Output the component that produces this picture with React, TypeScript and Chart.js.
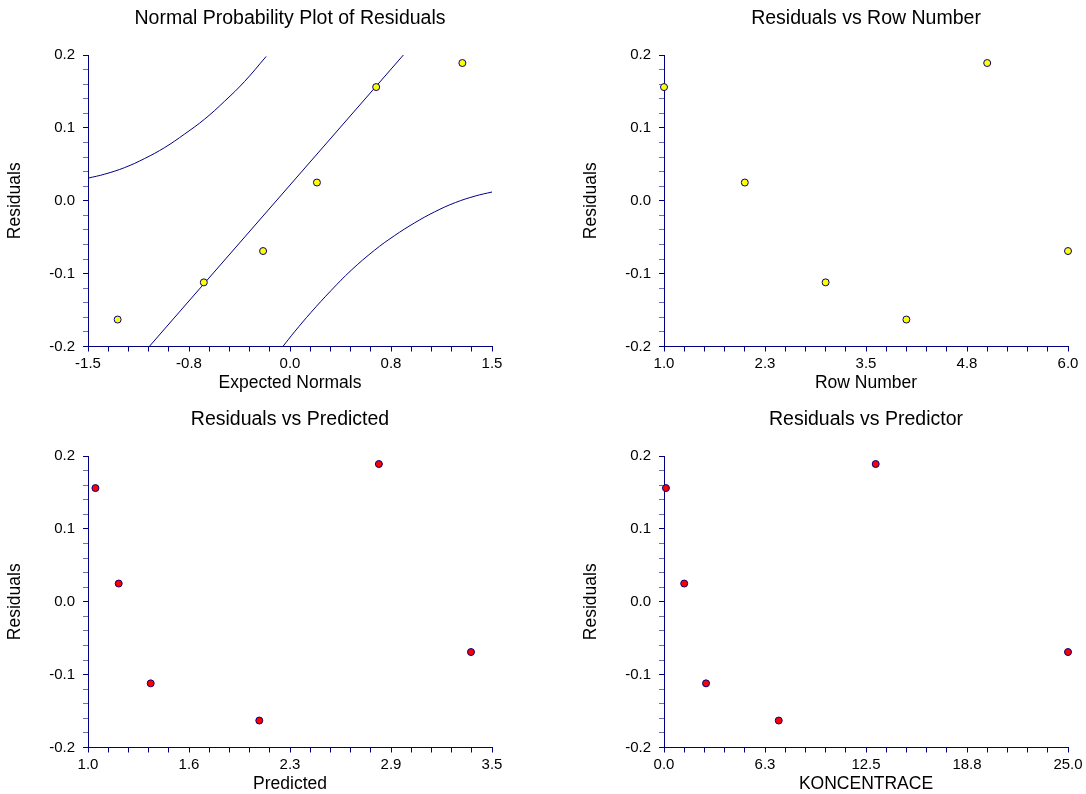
import React, { useEffect, useRef } from 'react';
import { Chart, registerables } from 'chart.js';

Chart.register(...registerables);

// ---------- data ----------
const rowNumbers = [1, 2, 3, 4, 5, 6];
const residuals = [0.156, 0.025, -0.112, -0.163, 0.189, -0.069];
const predicted = [1.046, 1.19, 1.388, 2.06, 2.8, 3.37];
const koncentrace = [0.12, 1.25, 2.6, 7.1, 13.1, 25.0];

const expectedNormals = [-1.28, -0.64, -0.2, 0.2, 0.64, 1.28];
const sortedResiduals = [-0.163, -0.112, -0.069, 0.025, 0.156, 0.189];

const refLineX = [-1.045, 0.842];
const refLineY = [-0.2, 0.2];
const upperBandX = [-1.5, -1.376, -1.228, -1.079, -0.931, -0.783, -0.634, -0.486, -0.338, -0.177];
const upperBandY = [0.031, 0.0365, 0.0455, 0.058, 0.073, 0.0915, 0.112, 0.1365, 0.1635, 0.198];
const lowerBandX = [-0.053, 0.033, 0.157, 0.306, 0.454, 0.627, 0.775, 0.924, 1.072, 1.228, 1.376, 1.5];
const lowerBandY = [-0.2, -0.18, -0.153, -0.123, -0.0955, -0.068, -0.048, -0.0305, -0.0154, -0.0025, 0.0065, 0.012];

// tick values and labels
const yTickValues = [-0.2, -0.1, 0, 0.1, 0.2];
const yTickLabels = ['-0.2', '-0.1', '0.0', '0.1', '0.2'];
const xNormalTicks = [-1.5, -0.75, 0, 0.75, 1.5];
const xNormalLabels = ['-1.5', '-0.8', '0.0', '0.8', '1.5'];
const xRowTicks = [1, 2.25, 3.5, 4.75, 6];
const xRowLabels = ['1.0', '2.3', '3.5', '4.8', '6.0'];
const xPredTicks = [1, 1.625, 2.25, 2.875, 3.5];
const xPredLabels = ['1.0', '1.6', '2.3', '2.9', '3.5'];
const xKonTicks = [0, 6.25, 12.5, 18.75, 25];
const xKonLabels = ['0.0', '6.3', '12.5', '18.8', '25.0'];

// ---------- styling / layout ----------
const FONT = '"Liberation Sans", Arial, Helvetica, sans-serif';
const NAVY = '#000080';
const MINOR = '#6f6fb5';
const CW = 530;
const CH = 400;
const PLOT_LEFT = 88;
const PLOT_RIGHT = 492;
const PLOT_BOTTOM = 346.5;
const SUBDIV = 5;

Chart.defaults.font.family = FONT;

function buildTicks(majors: number[], labels: string[]) {
  const out: any[] = [];
  for (let i = 0; i < majors.length - 1; i++) {
    const a = majors[i];
    const b = majors[i + 1];
    for (let k = 0; k < SUBDIV; k++) {
      out.push({ value: a + ((b - a) * k) / SUBDIV, lbl: k === 0 ? labels[i] : '' });
    }
  }
  out.push({ value: majors[majors.length - 1], lbl: labels[labels.length - 1] });
  return out;
}

function makeConfig(opts: {
  title: string;
  xTitle: string;
  xTicks: number[];
  xLabels: string[];
  datasets: any[];
}) {
  const { title, xTitle, xTicks, xLabels, datasets } = opts;
  return {
    type: 'scatter' as const,
    data: { datasets },
    options: {
      responsive: false,
      animation: false,
      devicePixelRatio: 1,
      events: [],
      layout: { padding: { left: 0, right: CW - PLOT_RIGHT, top: 0, bottom: 0 } },
      plugins: {
        legend: { display: false },
        tooltip: { enabled: false },
        title: {
          display: true,
          text: title,
          fullSize: false,
          color: '#000',
          font: { family: FONT, size: 19.5, weight: 'normal' },
          padding: { top: 7.3, bottom: 24.3 },
        },
      },
      scales: {
        x: {
          type: 'linear',
          min: xTicks[0],
          max: xTicks[xTicks.length - 1],
          afterBuildTicks: (s: any) => {
            s.ticks = buildTicks(xTicks, xLabels);
          },
          afterFit: (s: any) => {
            s.height = CH - PLOT_BOTTOM;
            s.paddingLeft = 0;
            s.paddingRight = 0;
          },
          ticks: {
            autoSkip: false,
            maxRotation: 0,
            padding: 3,
            color: '#000',
            font: { family: FONT, size: 15 },
            callback: (_v: any, i: number, ticks: any[]) => ticks[i].lbl,
          },
          grid: {
            display: true,
            drawOnChartArea: false,
            drawTicks: true,
            tickLength: 5,
            tickWidth: 1,
            tickColor: NAVY,
          },
          border: { display: true, color: NAVY, width: 1 },
          title: {
            display: true,
            text: xTitle,
            color: '#000',
            font: { family: FONT, size: 17.5 },
            padding: { top: 0, bottom: 6 },
          },
        },
        y: {
          type: 'linear',
          min: -0.2,
          max: 0.2,
          afterBuildTicks: (s: any) => {
            s.ticks = buildTicks(yTickValues, yTickLabels);
          },
          afterFit: (s: any) => {
            s.width = PLOT_LEFT;
            s.paddingTop = 0;
            s.paddingBottom = 0;
          },
          ticks: {
            autoSkip: false,
            padding: 8,
            color: '#000',
            font: { family: FONT, size: 15 },
            callback: (_v: any, i: number, ticks: any[]) => ticks[i].lbl,
          },
          grid: {
            display: true,
            drawOnChartArea: false,
            drawTicks: true,
            tickLength: 5,
            tickWidth: 1,
            tickColor: (ctx: any) => (ctx.tick && ctx.tick.lbl ? NAVY : MINOR),
          },
          border: { display: true, color: NAVY, width: 1 },
          title: {
            display: true,
            text: 'Residuals',
            color: '#000',
            font: { family: FONT, size: 17.5 },
            padding: { top: 5, bottom: 0 },
          },
        },
      },
    },
  };
}

function pointSet(xs: number[], ys: number[], fill: string) {
  return {
    data: xs.map((x, i) => ({ x, y: ys[i] })),
    showLine: false,
    clip: false,
    pointRadius: 3.5,
    pointBackgroundColor: fill,
    pointBorderColor: NAVY,
    pointBorderWidth: 1,
  };
}

function lineSet(xs: number[], ys: number[], smooth: boolean) {
  return {
    data: xs.map((x, i) => ({ x, y: ys[i] })),
    showLine: true,
    borderColor: NAVY,
    borderWidth: 1,
    pointRadius: 0,
    tension: smooth ? 0.4 : 0,
    fill: false,
  };
}

const panels = [
  {
    left: 0,
    top: 0,
    config: makeConfig({
      title: 'Normal Probability Plot of Residuals',
      xTitle: 'Expected Normals',
      xTicks: xNormalTicks,
      xLabels: xNormalLabels,
      datasets: [
        pointSet(expectedNormals, sortedResiduals, '#FFFF00'),
        lineSet(refLineX, refLineY, false),
        lineSet(upperBandX, upperBandY, true),
        lineSet(lowerBandX, lowerBandY, true),
      ],
    }),
  },
  {
    left: 576,
    top: 0,
    config: makeConfig({
      title: 'Residuals vs Row Number',
      xTitle: 'Row Number',
      xTicks: xRowTicks,
      xLabels: xRowLabels,
      datasets: [pointSet(rowNumbers, residuals, '#FFFF00')],
    }),
  },
  {
    left: 0,
    top: 401,
    config: makeConfig({
      title: 'Residuals vs Predicted',
      xTitle: 'Predicted',
      xTicks: xPredTicks,
      xLabels: xPredLabels,
      datasets: [pointSet(predicted, residuals, '#FF0000')],
    }),
  },
  {
    left: 576,
    top: 401,
    config: makeConfig({
      title: 'Residuals vs Predictor',
      xTitle: 'KONCENTRACE',
      xTicks: xKonTicks,
      xLabels: xKonLabels,
      datasets: [pointSet(koncentrace, residuals, '#FF0000')],
    }),
  },
];

function Panel({ left, top, config }: { left: number; top: number; config: any }) {
  const ref = useRef<HTMLCanvasElement>(null);
  useEffect(() => {
    if (!ref.current) return;
    const chart = new Chart(ref.current, config);
    return () => chart.destroy();
  }, [config]);
  return (
    <div style={{ position: 'absolute', left, top, width: CW, height: CH }}>
      <canvas ref={ref} width={CW} height={CH} style={{ display: 'block' }} />
    </div>
  );
}

export default function App() {
  return (
    <div
      style={{
        position: 'fixed',
        left: 0,
        top: 0,
        width: 1086,
        height: 794,
        overflow: 'hidden',
        background: '#ffffff',
      }}
    >
      {panels.map((p, i) => (
        <Panel key={i} left={p.left} top={p.top} config={p.config} />
      ))}
    </div>
  );
}
